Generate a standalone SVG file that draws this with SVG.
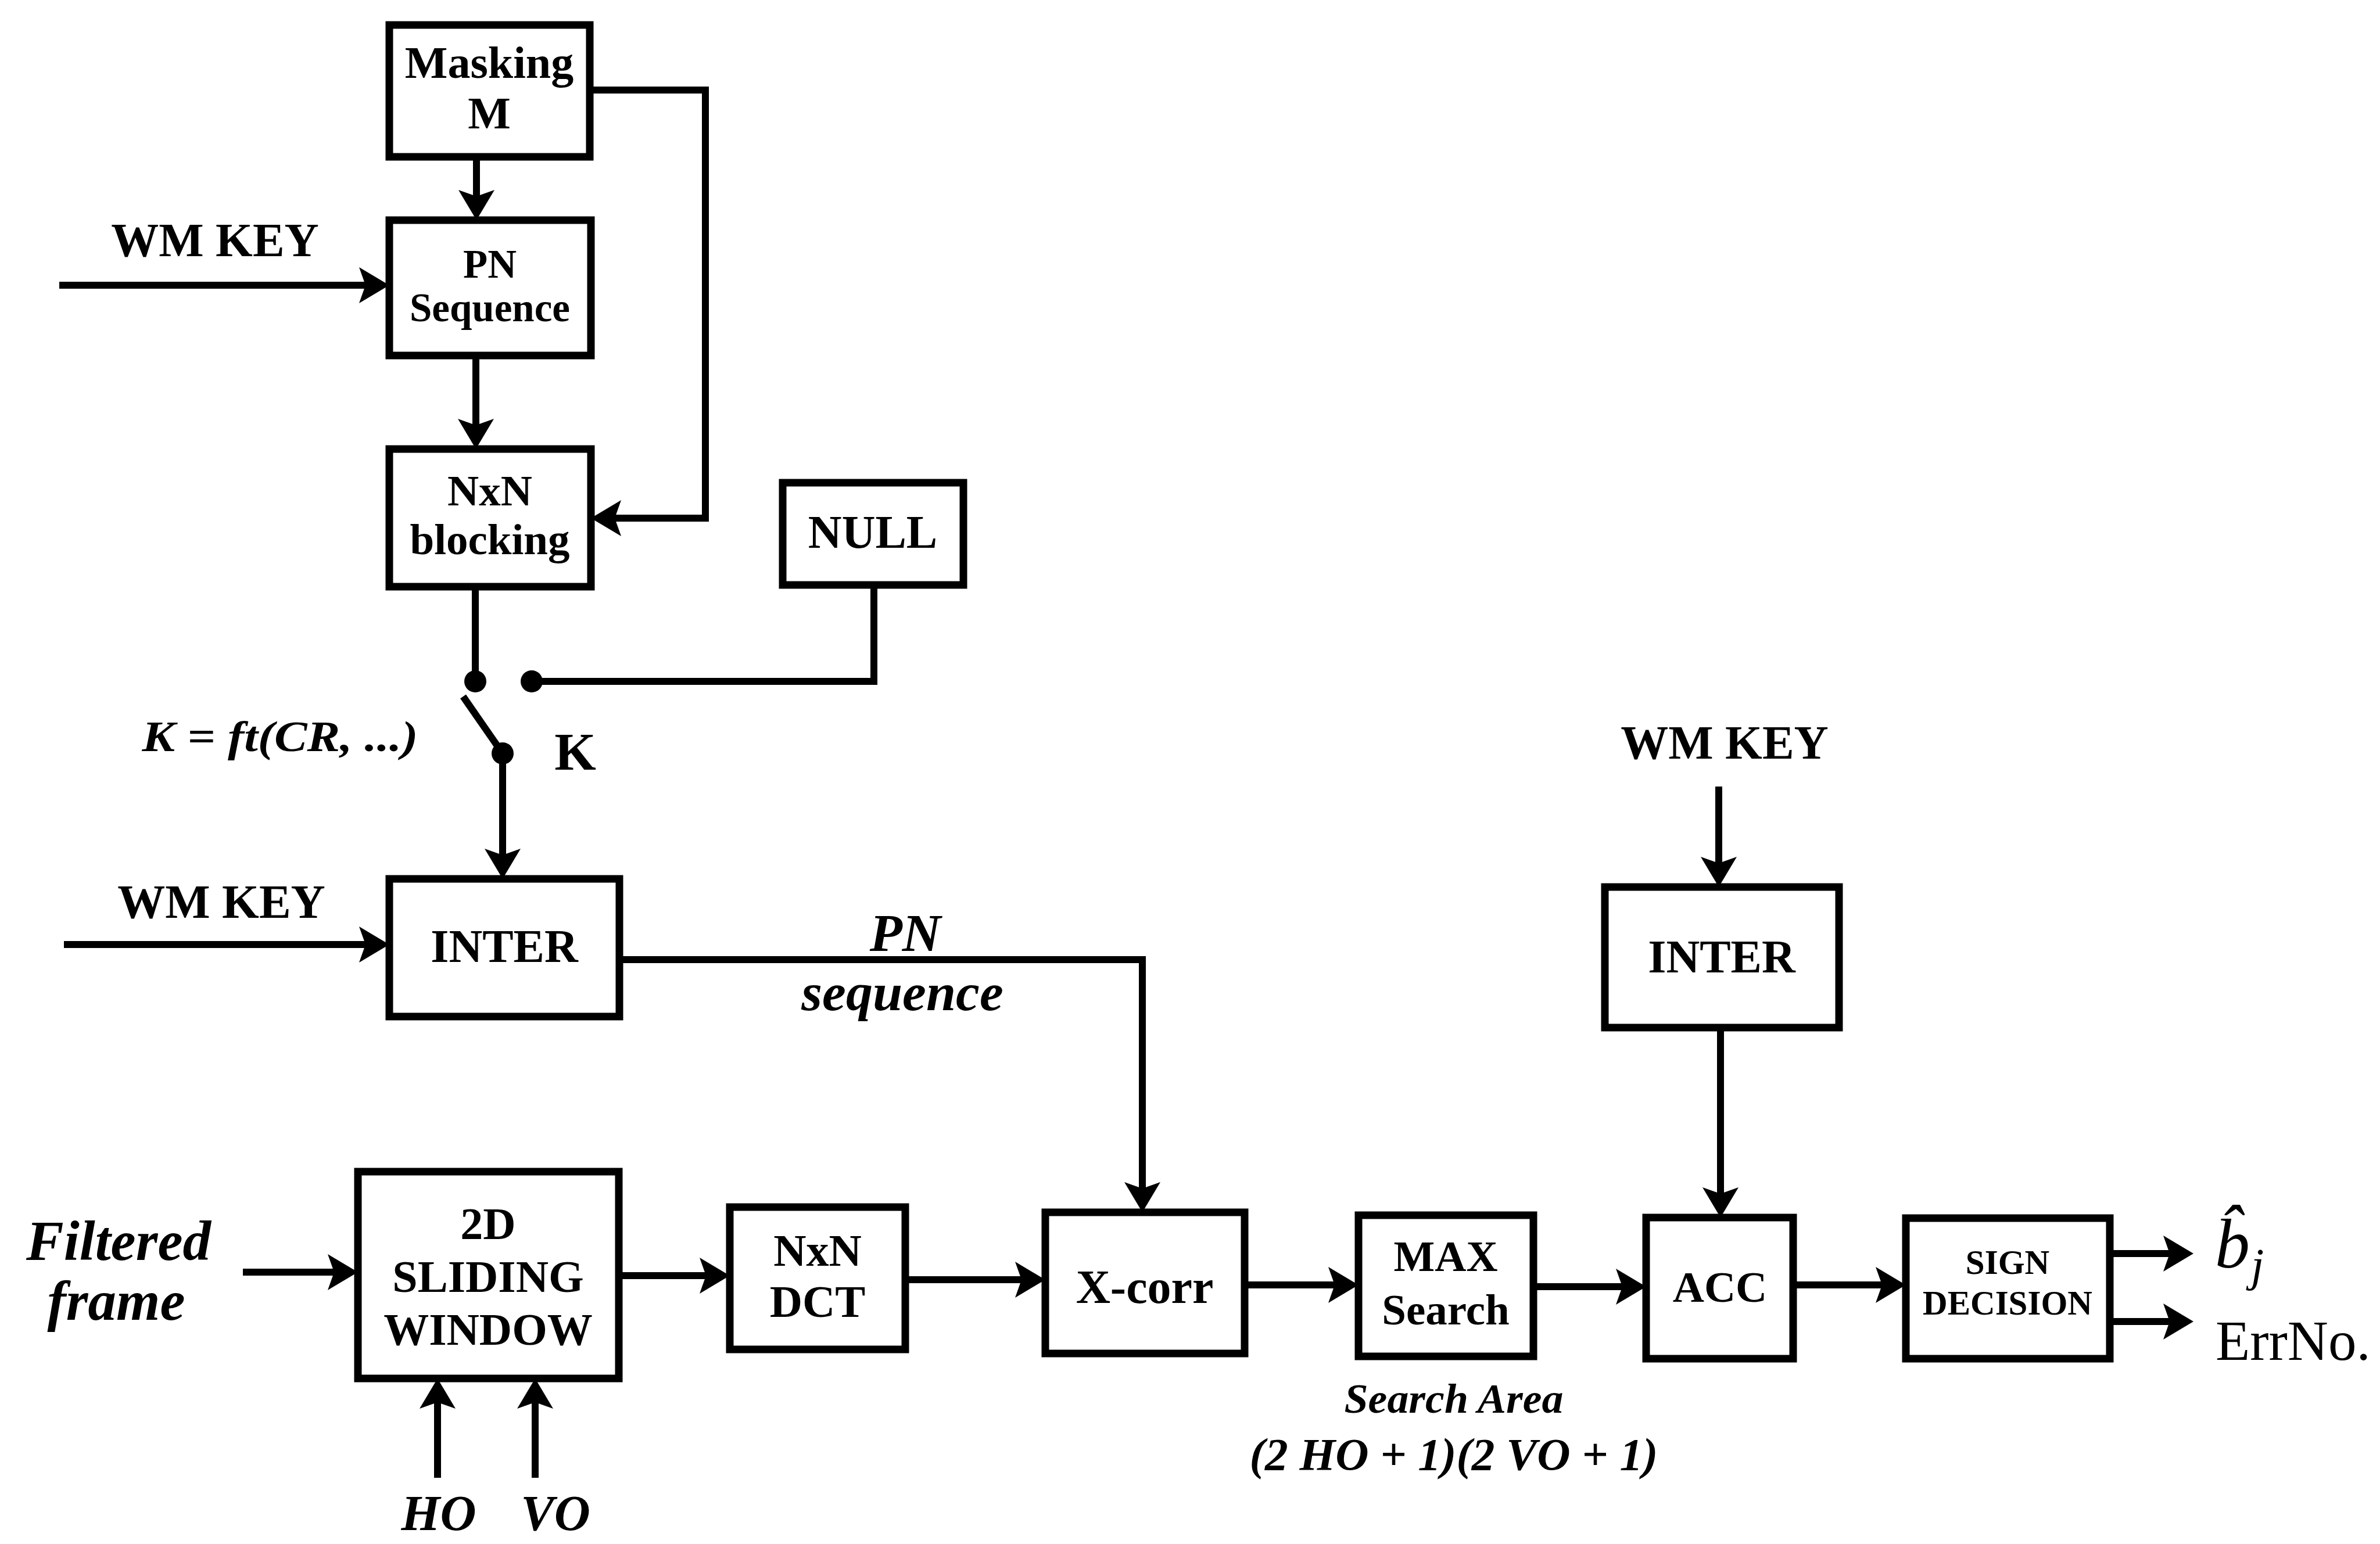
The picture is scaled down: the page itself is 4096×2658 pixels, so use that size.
<svg xmlns="http://www.w3.org/2000/svg" width="4096" height="2658" viewBox="0 0 4096 2658">
<style>
.box{fill:#fff;stroke:#000;stroke-width:13}
.c{fill:none;stroke:#000;stroke-width:12}
.a{marker-end:url(#ah)}
.t{font-family:"Liberation Serif","Times New Roman",serif;font-weight:bold;text-anchor:middle;fill:#000}
.i{font-family:"Liberation Serif","Times New Roman",serif;font-weight:bold;font-style:italic;text-anchor:middle;fill:#000}
.r{font-family:"Liberation Serif","Times New Roman",serif;fill:#000}
</style>
<defs>
<marker id="ah" viewBox="-42 -33 56 66" refX="0" refY="0" markerWidth="56" markerHeight="66" markerUnits="userSpaceOnUse" orient="auto">
<path d="M12,0 L-40,-31 L-29,0 L-40,31 Z" fill="#000"/>
</marker>
</defs>
<rect width="4096" height="2658" fill="#fff"/>

<g id="connectors">
<path class="c a" d="M820,270 V367"/>
<path class="c a" d="M819,612 V761"/>
<path class="c a" d="M1015,155 H1214 V892 H1029"/>
<path class="c a" d="M102,491 H658"/>
<path class="c" d="M818,1010 V1173"/>
<path class="c" d="M915,1173 H1504 V1007"/>
<path class="c" d="M797,1199 L865,1297"/>
<path class="c a" d="M865,1297 V1501"/>
<path class="c a" d="M110,1626 H658"/>
<path class="c a" d="M1066,1652 H1966 V2075"/>
<path class="c a" d="M2958,1354 V1515"/>
<path class="c a" d="M2961,1769 V2084"/>
<path class="c a" d="M418,2190 H604"/>
<path class="c a" d="M1065,2196 H1244"/>
<path class="c a" d="M1558,2203 H1787"/>
<path class="c a" d="M2142,2212 H2326"/>
<path class="c a" d="M2639,2215 H2821"/>
<path class="c a" d="M3086,2212 H3268"/>
<path class="c a" d="M3631,2158 H3763"/>
<path class="c a" d="M3631,2275 H3763"/>
<path class="c a" d="M753,2544 V2385"/>
<path class="c a" d="M921,2544 V2385"/>
<circle cx="818" cy="1173" r="19" fill="#000"/>
<circle cx="915" cy="1173" r="19" fill="#000"/>
<circle cx="865" cy="1297" r="19" fill="#000"/>
</g>

<g id="masking">
<rect class="box" x="670" y="43" width="345" height="227"/>
<text class="t" x="842" y="134" font-size="78">Masking</text>
<text class="t" x="842" y="221" font-size="78">M</text>
</g>
<g id="pn-sequence">
<rect class="box" x="670" y="379" width="347" height="233"/>
<text class="t" x="843" y="478" font-size="69">PN</text>
<text class="t" x="843" y="553" font-size="69">Sequence</text>
</g>
<g id="nxn-blocking">
<rect class="box" x="670" y="773" width="347" height="237"/>
<text class="t" x="843" y="870" font-size="75">NxN</text>
<text class="t" x="843" y="954" font-size="75">blocking</text>
</g>
<g id="null">
<rect class="box" x="1347" y="831" width="311" height="176"/>
<text class="t" x="1502" y="943" font-size="80">NULL</text>
</g>
<g id="inter-left">
<rect class="box" x="670" y="1513" width="396" height="237"/>
<text class="t" x="868" y="1656" font-size="80">INTER</text>
</g>
<g id="inter-right">
<rect class="box" x="2762" y="1527" width="403" height="242"/>
<text class="t" x="2963" y="1674" font-size="80">INTER</text>
</g>
<g id="sliding-window">
<rect class="box" x="616" y="2017" width="449" height="356"/>
<text class="t" x="840" y="2133" font-size="78">2D</text>
<text class="t" x="840" y="2224" font-size="78">SLIDING</text>
<text class="t" x="840" y="2315" font-size="78">WINDOW</text>
</g>
<g id="nxn-dct">
<rect class="box" x="1256" y="2078" width="302" height="245"/>
<text class="t" x="1407" y="2179" font-size="78">NxN</text>
<text class="t" x="1407" y="2267" font-size="78">DCT</text>
</g>
<g id="x-corr">
<rect class="box" x="1799" y="2087" width="343" height="243"/>
<text class="t" x="1970" y="2243" font-size="82">X-corr</text>
</g>
<g id="max-search">
<rect class="box" x="2338" y="2092" width="301" height="243"/>
<text class="t" x="2488" y="2188" font-size="75">MAX</text>
<text class="t" x="2488" y="2280" font-size="75">Search</text>
</g>
<g id="acc">
<rect class="box" x="2833" y="2096" width="253" height="243"/>
<text class="t" x="2960" y="2241" font-size="75">ACC</text>
</g>
<g id="sign-decision">
<rect class="box" x="3280" y="2097" width="351" height="242"/>
<text class="t" x="3455" y="2193" font-size="59">SIGN</text>
<text class="t" x="3455" y="2263" font-size="59">DECISION</text>
</g>

<g id="labels">
<text class="t" x="370" y="441" font-size="82">WM KEY</text>
<text class="t" x="381" y="1580" font-size="82">WM KEY</text>
<text class="t" x="2968" y="1306" font-size="82">WM KEY</text>
<text class="i" x="482" y="1293" font-size="75" textLength="475" lengthAdjust="spacingAndGlyphs">K = ft(CR, ...)</text>
<text class="t" x="990" y="1325" font-size="92">K</text>
<text class="i" x="1558" y="1637" font-size="92">PN</text>
<text class="i" x="1553" y="1739" font-size="92">sequence</text>
<text class="i" x="204" y="2169" font-size="97">Filtered</text>
<text class="i" x="200" y="2272" font-size="97">frame</text>
<text class="i" x="755" y="2634" font-size="86">HO</text>
<text class="i" x="956" y="2634" font-size="86">VO</text>
<text class="i" x="2502" y="2432" font-size="72" textLength="377" lengthAdjust="spacingAndGlyphs">Search Area</text>
<text class="i" x="2502" y="2530" font-size="78" textLength="703" lengthAdjust="spacingAndGlyphs">(2 HO + 1)(2 VO + 1)</text>
<text class="r" x="3812" y="2182" font-size="120" font-style="italic">b̂<tspan x="3874" y="2205" font-size="80">j</tspan></text>
<text class="r" x="3813" y="2341" font-size="97">ErrNo.</text>
</g>
</svg>
